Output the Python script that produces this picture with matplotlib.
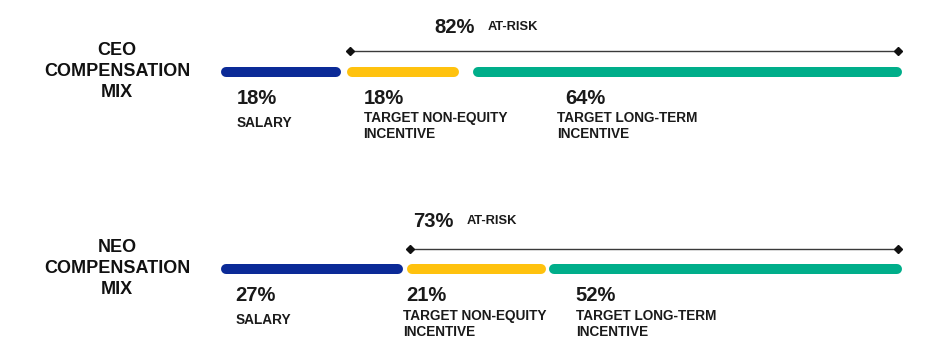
import matplotlib
matplotlib.use('Agg')
import matplotlib.pyplot as plt
import numpy as np

plt.rcParams['font.family'] = ['Liberation Sans', 'DejaVu Sans']

# data
row_titles = ['CEO\nCOMPENSATION\nMIX', 'NEO\nCOMPENSATION\nMIX']
components = ['SALARY', 'TARGET NON-EQUITY\nINCENTIVE', 'TARGET LONG-TERM\nINCENTIVE']
ceo_mix = [18, 18, 64]
neo_mix = [27, 21, 52]
mixes = [ceo_mix, neo_mix]
at_risk = [82, 73]
at_risk_label = 'AT-RISK'

colors = ['#0b2a97', '#ffc20e', '#00ae8a']

# layout (pixels)
W, H, DPI = 932, 356, 100
X0, X1 = 221, 902
PX = (X1 - X0) / 100.0          # pixels per percent
bar_y = [71.5, 269]
bar_lw = 10
gaps = [[6, 14], [4, 3]]
pct_dx = [[16, 20, 99], [14, 1, 28]]
desc_dx = [[16, 20, 91], [15, -2, 28]]
head_dx = [91, 8]
head_dy = [-38.5, -42]


def px(v):
    return v / PX


fig = plt.figure(figsize=(W / DPI, H / DPI), dpi=DPI)
ax = fig.add_axes([0, 0, 1, 1])
ax.set_xlim(-X0 / PX, (W - X0) / PX)
ax.set_ylim(H, 0)
ax.axis('off')

for r, mix in enumerate(mixes):
    y = bar_y[r]
    cum = np.concatenate([[0], np.cumsum(mix)])
    n = len(mix)

    # title on the left (baseline = last line)
    ax.text(px(117 - X0), y + 25.5, row_titles[r], ha='center', va='baseline',
            fontsize=13, fontweight='bold', linespacing=1.32, color='#111111')

    for i in range(n):
        a = cum[i] + px(bar_lw / 2 + (gaps[r][i - 1] / 2 if i > 0 else 0))
        b = cum[i + 1] - px(bar_lw / 2 + (gaps[r][i] / 2 if i < n - 1 else 0))
        ax.plot([a, b], [y, y], color=colors[i], lw=bar_lw * 72 / DPI,
                solid_capstyle='round')

        ax.text(cum[i] + px(pct_dx[r][i]), y + 32, f'{mix[i]}%', ha='left',
                va='baseline', fontsize=14.5, fontweight='bold', color='#1a1a1a')
        multi = '\n' in components[i]
        ax.text(cum[i] + px(desc_dx[r][i]), y + (67 if multi else 55.5), components[i],
                ha='left', va='baseline', fontsize=9.8, fontweight='bold',
                linespacing=1.2, color='#1a1a1a')

    # at-risk bracket
    start = 100 - at_risk[r]
    bx0 = start + px(gaps[r][0] / 2 + 3)
    bx1 = 100 - px(4)
    by = y - 20.5
    ax.plot([bx0, bx1], [by, by], color='#3a3a3a', lw=1.0, marker='D',
            markersize=3.8, markerfacecolor='#111111', markeredgecolor='#111111')

    t = ax.text(start + px(head_dx[r]), y + head_dy[r], f'{at_risk[r]}%', ha='left',
                va='baseline', fontsize=14.5, fontweight='bold', color='#1a1a1a')
    ax.annotate(at_risk_label, xy=(1, y + head_dy[r]), xycoords=(t, 'data'),
                xytext=(13 * 72 / DPI, 2.5 * 72 / DPI), textcoords='offset points',
                ha='left', va='baseline', fontsize=9.3, fontweight='bold',
                color='#1a1a1a')

fig.savefig('out.png', dpi=DPI)
